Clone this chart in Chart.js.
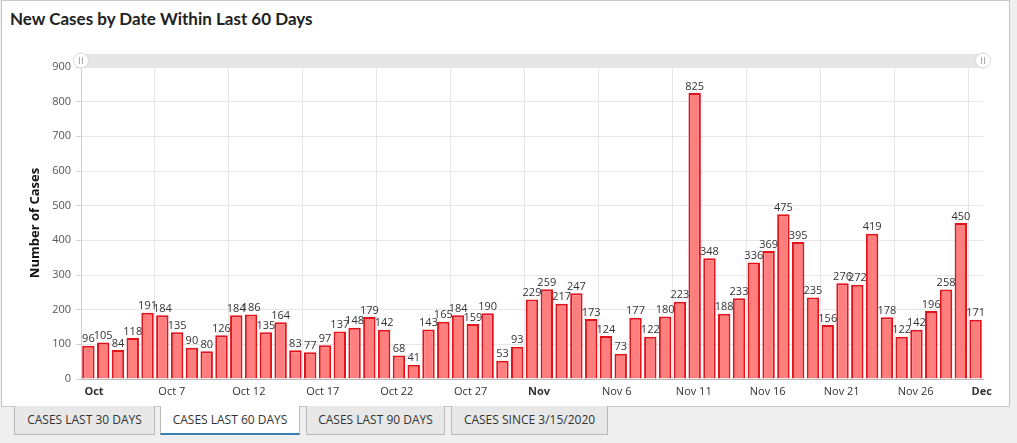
<!DOCTYPE html>
<html>
<head>
<meta charset="utf-8">
<script src="https://cdn.jsdelivr.net/npm/chart.js@4.4.1/dist/chart.umd.min.js"></script>
<style>
    html, body { margin: 0; padding: 0; }
    body { width: 1017px; height: 443px; background: #efefef; position: relative; overflow: hidden; font-family: "Open Sans", sans-serif; }
    .panel { position: absolute; left: 1px; top: 0; width: 1007px; height: 405px; background: #fff; border: 1px solid #c6c6c6; }
    .title { position: absolute; left: 8px; top: 7px; font-family: Lato, sans-serif; font-weight: 700; font-size: 17px; color: #222; }
    #chartWrap { position: absolute; left: 0; top: 29px; width: 1007px; height: 376px; }
    .tabs { position: absolute; left: 14px; top: 406px; }
    .tab { position: absolute; top: 0; line-height: 27px; background: #e8e8e8; border: 1px solid #b9b9b9; border-top: none;
           font-size: 12px; color: #333; text-align: center; box-sizing: border-box; height: 29px; }
    .tab.active { background: #fff; border-bottom: 2px solid #3a7fb0; }
</style>
</head>
<body>
<div class="panel">
    <div class="title">New Cases by Date Within Last 60 Days</div>
    <div id="chartWrap"><canvas id="casesChart" width="1007" height="376"></canvas></div>
</div>
<div class="tabs">
    <div class="tab" style="left:0;width:141px">CASES LAST 30 DAYS</div>
    <div class="tab active" style="left:146px;width:140px">CASES LAST 60 DAYS</div>
    <div class="tab" style="left:292px;width:139px">CASES LAST 90 DAYS</div>
    <div class="tab" style="left:437px;width:157px">CASES SINCE 3/15/2020</div>
</div>
<script>
// Oct 2 .. Dec 1
const dates = [];
const startDate = new Date(2020, 9, 2);
for (let i = 0; i < 61; i++) {
    const d = new Date(startDate);
    d.setDate(d.getDate() + i);
    dates.push(d);
}
const monthNames = ['Jan', 'Feb', 'Mar', 'Apr', 'May', 'Jun', 'Jul', 'Aug', 'Sep', 'Oct', 'Nov', 'Dec'];

const newCases = [
    96, 105, 84, 118, 191, 184, 135, 90, 80, 126,
    184, 186, 135, 164, 83, 77, 97, 137, 148, 179,
    142, 68, 41, 143, 165, 184, 159, 190, 53, 93,
    229, 259, 217, 247, 173, 124, 73, 177, 122, 180,
    223, 825, 348, 188, 233, 336, 369, 475, 395, 235,
    156, 276, 272, 419, 178, 122, 142, 196, 258, 450,
    171
];

const tickLabels = ['Oct', 'Oct 7', 'Oct 12', 'Oct 17', 'Oct 22', 'Oct 27', 'Nov', 'Nov 6', 'Nov 11', 'Nov 16', 'Nov 21', 'Nov 26', 'Dec'];
const tickEvery = 5;

const labels = dates.map(d => monthNames[d.getMonth()] + ' ' + d.getDate());

// value labels above bars
const valueLabels = {
    id: 'valueLabels',
    afterDatasetsDraw: (chart) => {
        const ctx = chart.ctx;
        const meta = chart.getDatasetMeta(0);
        ctx.save();
        ctx.font = '11px "Open Sans", sans-serif';
        ctx.fillStyle = '#333';
        ctx.textAlign = 'center';
        ctx.textBaseline = 'bottom';
        meta.data.forEach((bar, i) => {
            ctx.fillText(newCases[i], bar.x, bar.y - 1);
        });
        ctx.restore();
    }
};

// scrollbar strip above the plot
const scrollbar = {
    id: 'scrollbar',
    afterDraw: (chart) => {
        const ctx = chart.ctx;
        const area = chart.chartArea;
        const y = area.top - 13;
        ctx.save();
        ctx.fillStyle = '#e6e6e6';
        ctx.fillRect(area.left, y, area.right - area.left, 13);
        [area.left, area.right].forEach(x => {
            ctx.beginPath();
            ctx.arc(x, y + 6.5, 7.5, 0, Math.PI * 2);
            ctx.fillStyle = '#fff';
            ctx.fill();
            ctx.strokeStyle = '#d8d8d8';
            ctx.lineWidth = 1;
            ctx.stroke();
            ctx.strokeStyle = '#aaa';
            ctx.beginPath();
            ctx.moveTo(x - 1.5, y + 3); ctx.lineTo(x - 1.5, y + 10);
            ctx.moveTo(x + 1.5, y + 3); ctx.lineTo(x + 1.5, y + 10);
            ctx.stroke();
        });
        ctx.restore();
    }
};

const ctx = document.getElementById('casesChart').getContext('2d');
new Chart(ctx, {
    type: 'bar',
    data: {
        labels: labels,
        datasets: [{
            data: newCases,
            backgroundColor: '#ff7f7f',
            borderColor: '#e3131b',
            borderWidth: 2,
            barPercentage: 0.84,
            categoryPercentage: 1.0
        }]
    },
    options: {
        responsive: false,
        animation: false,
        layout: { padding: { top: 37, right: 26, left: 0, bottom: 0 } },
        plugins: {
            legend: { display: false },
            tooltip: { enabled: false }
        },
        scales: {
            x: {
                offset: true,
                grid: {
                    offset: true,
                    drawTicks: false,
                    color: (c) => (c.index % tickEvery === 0 && c.index < newCases.length) ? '#e6e6e6' : 'rgba(0,0,0,0)'
                },
                border: { color: '#bdbdbd' },
                ticks: {
                    autoSkip: false,
                    maxRotation: 0,
                    minRotation: 0,
                    align: 'start',
                    labelOffset: -4,
                    padding: 6,
                    color: '#333',
                    font: (c) => {
                        const label = tickLabels[c.index / tickEvery];
                        const bold = c.index % tickEvery === 0 && label && label.indexOf(' ') === -1;
                        return { family: '"Open Sans", sans-serif', size: 11, weight: bold ? 'bold' : 'normal' };
                    },
                    callback: (v, i) => (i % tickEvery === 0) ? tickLabels[i / tickEvery] : ''
                },
                afterFit: (scale) => { scale.height = 27; }
            },
            y: {
                min: 0,
                max: 900,
                ticks: {
                    stepSize: 100,
                    color: '#555',
                    padding: 5,
                    font: { family: '"Open Sans", sans-serif', size: 11 }
                },
                grid: { color: '#e6e6e6', tickLength: 5, tickColor: '#cfcfcf' },
                border: { color: '#cfcfcf' },
                title: {
                    display: true,
                    text: 'Number of Cases',
                    color: '#111',
                    font: { family: '"Open Sans", sans-serif', size: 13, weight: 'bold' },
                    padding: { top: 25, bottom: 0 }
                },
                afterFit: (scale) => { scale.width = 79; }
            }
        }
    },
    plugins: [valueLabels, scrollbar]
});
</script>
</body>
</html>
